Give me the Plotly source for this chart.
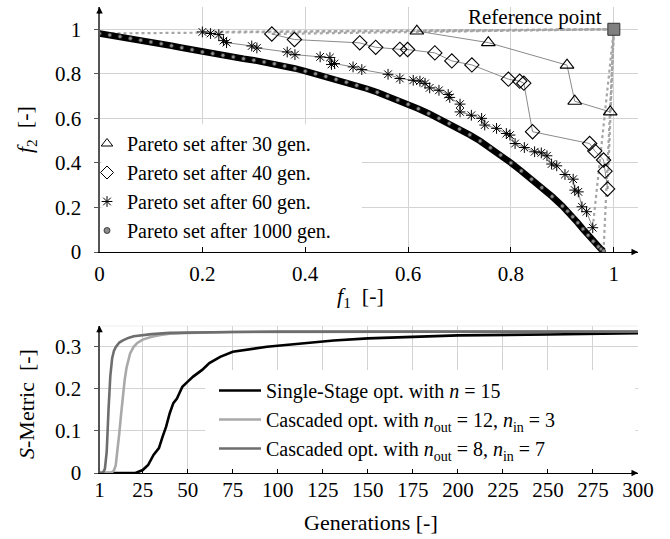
import plotly.graph_objects as go

# ---------------- top chart data: Pareto sets ----------------
gen30_f1 = [0.617, 0.756, 0.909, 0.924, 0.993]
gen30_f2 = [0.992, 0.940, 0.839, 0.677, 0.629]

gen40_f1 = [0.335, 0.379, 0.506, 0.537, 0.584, 0.599, 0.652, 0.685, 0.724, 0.795,
            0.817, 0.825, 0.842, 0.953, 0.963, 0.980, 0.983, 0.988]
gen40_f2 = [0.979, 0.954, 0.939, 0.919, 0.910, 0.909, 0.894, 0.858, 0.840, 0.776,
            0.767, 0.758, 0.540, 0.487, 0.454, 0.413, 0.363, 0.283]

gen60_f1 = [0.200, 0.216, 0.232, 0.241, 0.247, 0.296, 0.306, 0.365, 0.380, 0.429,
            0.448, 0.451, 0.457, 0.493, 0.510, 0.561, 0.584, 0.610, 0.623, 0.633,
            0.642, 0.660, 0.678, 0.681, 0.701, 0.701, 0.723, 0.743, 0.749, 0.772,
            0.791, 0.798, 0.808, 0.826, 0.846, 0.859, 0.870, 0.879, 0.889, 0.905,
            0.921, 0.924, 0.931, 0.938, 0.947, 0.959]
gen60_f2 = [0.988, 0.981, 0.976, 0.949, 0.940, 0.925, 0.916, 0.898, 0.886, 0.876,
            0.873, 0.842, 0.846, 0.831, 0.819, 0.798, 0.779, 0.771, 0.767, 0.757,
            0.737, 0.726, 0.707, 0.694, 0.664, 0.629, 0.614, 0.600, 0.570, 0.555,
            0.532, 0.525, 0.487, 0.469, 0.450, 0.445, 0.432, 0.395, 0.387, 0.348,
            0.327, 0.278, 0.270, 0.203, 0.181, 0.109]

gen1000_f1 = [0.00, 0.02, 0.04, 0.06, 0.08, 0.10, 0.12, 0.14, 0.16, 0.18,
              0.20, 0.22, 0.24, 0.26, 0.28, 0.30, 0.32, 0.34, 0.36, 0.38,
              0.40, 0.42, 0.44, 0.46, 0.48, 0.50, 0.52, 0.54, 0.56, 0.58,
              0.60, 0.62, 0.64, 0.66, 0.68, 0.70, 0.72, 0.74, 0.76, 0.78,
              0.80, 0.82, 0.84, 0.86, 0.88, 0.90, 0.91, 0.92, 0.93, 0.94,
              0.95, 0.96, 0.97, 0.975, 0.98]
gen1000_f2 = [0.981, 0.974, 0.967, 0.959, 0.951, 0.943, 0.935, 0.926, 0.917, 0.908,
              0.898, 0.891, 0.883, 0.876, 0.868, 0.861, 0.853, 0.845, 0.835, 0.824,
              0.812, 0.800, 0.788, 0.775, 0.762, 0.748, 0.733, 0.717, 0.700, 0.682,
              0.663, 0.643, 0.622, 0.600, 0.577, 0.552, 0.526, 0.498, 0.468, 0.435,
              0.400, 0.364, 0.327, 0.289, 0.249, 0.206, 0.183, 0.158, 0.131, 0.103,
              0.075, 0.048, 0.024, 0.013, 0.005]

ref_f1 = [1.0]
ref_f2 = [1.0]

legend_top = ["Pareto set after 30 gen.", "Pareto set after 40 gen.",
              "Pareto set after 60 gen.", "Pareto set after 1000 gen."]

# ---------------- bottom chart data: S-metric ----------------
gens_single = [1, 21, 25, 28, 31, 34, 36, 38, 40, 42, 44, 47, 50, 53, 58, 62, 68, 75,
               94, 112, 131, 150, 175, 200, 250, 300]
s_single = [0, 0, 0.007, 0.019, 0.043, 0.059, 0.086, 0.110, 0.142, 0.166, 0.177, 0.205,
            0.217, 0.229, 0.245, 0.261, 0.276, 0.288, 0.300, 0.308, 0.315, 0.320, 0.324,
            0.327, 0.329, 0.332]

gens_c12 = [1, 7, 8, 9, 10, 11, 12, 13, 14, 15, 16, 17, 18, 20, 22, 25, 30, 35, 40, 50,
            60, 75, 100, 150, 200, 300]
s_c12 = [0, 0, 0.002, 0.006, 0.018, 0.05, 0.095, 0.14, 0.185, 0.222, 0.25, 0.27, 0.284,
         0.300, 0.309, 0.317, 0.324, 0.328, 0.331, 0.333, 0.334, 0.335, 0.335, 0.336,
         0.336, 0.336]

gens_c8 = [1, 3, 4, 5, 6, 7, 8, 9, 10, 11, 12, 14, 17, 20, 25, 30, 40, 50, 75, 100, 150,
           200, 300]
s_c8 = [0, 0.001, 0.01, 0.05, 0.15, 0.23, 0.272, 0.290, 0.299, 0.305, 0.310, 0.315,
        0.321, 0.325, 0.328, 0.330, 0.333, 0.334, 0.335, 0.336, 0.336, 0.336, 0.336]

legend_bottom = ["Single-Stage opt. with <i>n</i> = 15",
                 "Cascaded opt. with <i>n</i><sub>out</sub> = 12, <i>n</i><sub>in</sub> = 3",
                 "Cascaded opt. with <i>n</i><sub>out</sub> = 8, <i>n</i><sub>in</sub> = 7"]

top_xticks = [0, 0.2, 0.4, 0.6, 0.8, 1]
top_xlabels = ["0", "0.2", "0.4", "0.6", "0.8", "1"]
top_yticks = [0, 0.2, 0.4, 0.6, 0.8, 1]
top_ylabels = ["0", "0.2", "0.4", "0.6", "0.8", "1"]
bot_xticks = [1, 25, 50, 75, 100, 125, 150, 175, 200, 225, 250, 275, 300]
bot_yticks = [0, 0.1, 0.2, 0.3]
bot_ylabels = ["0", "0.1", "0.2", "0.3"]

W, H = 670, 539
FONT = "Liberation Serif, Times New Roman, Times, serif"
GRID = "#d3d3d3"
DOT = "#a6a6a6"

fig = go.Figure()

# dotted hypervolume boundaries to reference point
for fx, fy in [(gen1000_f1, gen1000_f2), (gen60_f1, gen60_f2),
               (gen40_f1, gen40_f2), (gen30_f1, gen30_f2)]:
    for i in (0, -1):
        fig.add_trace(go.Scatter(x=[fx[i], ref_f1[0]], y=[fy[i], ref_f2[0]], mode="lines",
                                 line=dict(color=DOT, width=2.2, dash="dot"),
                                 showlegend=False, hoverinfo="skip", xaxis="x", yaxis="y"))

# 1000 gen: thick band of dense points
fig.add_trace(go.Scatter(x=gen1000_f1, y=gen1000_f2, mode="lines+markers",
                         line=dict(color="black", width=6.5),
                         marker=dict(symbol="circle", size=4, color="#8c8c8c",
                                     line=dict(color="#222", width=0.8)),
                         showlegend=False, xaxis="x", yaxis="y"))
fig.add_trace(go.Scatter(x=gen60_f1, y=gen60_f2, mode="lines+markers",
                         line=dict(color="#8a8a8a", width=1),
                         marker=dict(symbol="asterisk-open", size=9, color="black",
                                     line=dict(color="black", width=1)),
                         showlegend=False, xaxis="x", yaxis="y"))
fig.add_trace(go.Scatter(x=gen40_f1, y=gen40_f2, mode="lines+markers",
                         line=dict(color="#8a8a8a", width=1),
                         marker=dict(symbol="diamond-open", size=11, color="black",
                                     line=dict(color="black", width=1.1)),
                         showlegend=False, xaxis="x", yaxis="y"))
fig.add_trace(go.Scatter(x=gen30_f1, y=gen30_f2, mode="lines+markers",
                         line=dict(color="#8a8a8a", width=1),
                         marker=dict(symbol="triangle-up-open", size=12, color="black",
                                     line=dict(color="black", width=1.1)),
                         showlegend=False, xaxis="x", yaxis="y"))
fig.add_trace(go.Scatter(x=ref_f1, y=ref_f2, mode="markers",
                         marker=dict(symbol="square", size=12, color="#808080",
                                     line=dict(color="#333", width=1)),
                         showlegend=False, xaxis="x", yaxis="y"))

# top legend entries (marker only)
leg_markers = [dict(symbol="triangle-up-open", size=10, color="black", line=dict(color="black", width=1)),
               dict(symbol="diamond-open", size=10, color="black", line=dict(color="black", width=1)),
               dict(symbol="asterisk-open", size=9, color="black", line=dict(color="black", width=1)),
               dict(symbol="circle", size=6, color="#8c8c8c", line=dict(color="#222", width=0.8))]
for name, mk in zip(legend_top, leg_markers):
    fig.add_trace(go.Scatter(x=[None], y=[None], mode="markers", marker=mk, name=name,
                             legend="legend", xaxis="x", yaxis="y"))

# bottom chart lines
fig.add_trace(go.Scatter(x=gens_single, y=s_single, mode="lines", name=legend_bottom[0],
                         line=dict(color="black", width=2.6), legend="legend2",
                         xaxis="x2", yaxis="y2"))
fig.add_trace(go.Scatter(x=gens_c12, y=s_c12, mode="lines", name=legend_bottom[1],
                         line=dict(color="#a9a9a9", width=2.6), legend="legend2",
                         xaxis="x2", yaxis="y2"))
fig.add_trace(go.Scatter(x=gens_c8, y=s_c8, mode="lines", name=legend_bottom[2],
                         line=dict(color="#6e6e6e", width=2.6), legend="legend2",
                         xaxis="x2", yaxis="y2"))

def px_x(p):
    return p / W

def px_y(p):
    return 1 - p / H

tick_font = dict(family=FONT, size=21, color="black")
xdom = [px_x(99.5), px_x(638)]

common = dict(automargin=False, showgrid=True, gridcolor=GRID, gridwidth=1, zeroline=False,
              showline=True, tickfont=tick_font)

fig.update_layout(
    template="none",
    width=W, height=H, margin=dict(l=0, r=0, t=0, b=0, pad=0),
    paper_bgcolor="white", plot_bgcolor="white",
    font=dict(family=FONT, color="black"),
    hovermode=False,
    xaxis=dict(domain=xdom, range=[0, 1.047], tickvals=top_xticks, ticktext=top_xlabels,
               linecolor="black", linewidth=1.3, ticks="inside", ticklen=5,
               tickcolor="black", ticklabelstandoff=2, anchor="y", **common),
    yaxis=dict(domain=[px_y(252), px_y(7)], range=[0, 1.1], tickvals=top_yticks,
               ticktext=top_ylabels, linecolor="#555", linewidth=2, ticks="outside",
               ticklen=4, tickcolor="#555", ticklabelstandoff=8, anchor="x", **common),
    xaxis2=dict(domain=xdom, range=[1, 300], tickvals=bot_xticks,
                linecolor="black", linewidth=1.3, ticks="inside", ticklen=4,
                tickcolor="black", ticklabelstandoff=-3, anchor="y2", **common),
    yaxis2=dict(domain=[px_y(473), px_y(325.7)], range=[0, 0.35], tickvals=bot_yticks,
                ticktext=bot_ylabels, linecolor="#555", linewidth=2, ticks="outside",
                ticklen=4, tickcolor="#555", ticklabelstandoff=8, anchor="x2", **common),
    legend=dict(x=px_x(87), y=px_y(124), xanchor="left", yanchor="top",
                bgcolor="rgba(0,0,0,0)", borderwidth=0,
                font=dict(family=FONT, size=20, color="black"),
                itemwidth=30, tracegroupgap=0),
    legend2=dict(x=px_x(214), y=px_y(371), xanchor="left", yanchor="top",
                 bgcolor="rgba(0,0,0,0)", borderwidth=0,
                 font=dict(family=FONT, size=20, color="black"),
                 itemwidth=42, tracegroupgap=0),
    showlegend=True,
)

# white boxes behind the legends (cover grid, below traces)
fig.add_shape(type="rect", xref="x", yref="y", x0=0.004, x1=0.510, y0=0.008, y1=0.574,
              fillcolor="white", line=dict(width=0), layer="between")
fig.add_shape(type="rect", xref="x2", yref="y2", x0=59.7, x1=298.5, y0=0.004, y1=0.245,
              fillcolor="white", line=dict(width=0), layer="between")
# top grid line of bottom chart
fig.add_shape(type="line", xref="x2", yref="y2", x0=1, x1=300, y0=0.35, y1=0.35,
              line=dict(color=GRID, width=1), layer="between")

# axis arrows
arrow = dict(text="", showarrow=True, arrowhead=2, arrowsize=1, arrowwidth=1.3,
             arrowcolor="black", axref="pixel", ayref="pixel", standoff=0)
fig.add_annotation(x=1.047, y=0, xref="x", yref="y", ax=-8, ay=0, **arrow)
fig.add_annotation(x=0, y=1.1, xref="x", yref="y", ax=0, ay=8, **arrow)
fig.add_annotation(x=300, y=0, xref="x2", yref="y2", ax=-8, ay=0, **arrow)
fig.add_annotation(x=1, y=0.35, xref="x2", yref="y2", ax=0, ay=8, **arrow)

title_font = dict(family=FONT, size=22, color="black")
fig.add_annotation(text="<i>f</i><sub>1</sub>  [-]", x=px_x(360), y=px_y(297), xref="paper",
                   yref="paper", showarrow=False, font=title_font, xanchor="center",
                   yanchor="middle")
fig.add_annotation(text="<i>f</i><sub>2</sub>  [-]", x=px_x(26), y=px_y(130), xref="paper",
                   yref="paper", showarrow=False, font=title_font, textangle=-90,
                   xanchor="center", yanchor="middle")
fig.add_annotation(text="<i>S</i>-Metric  [-]", x=px_x(26), y=px_y(404), xref="paper",
                   yref="paper", showarrow=False, font=title_font, textangle=-90,
                   xanchor="center", yanchor="middle")
fig.add_annotation(text="Generations [-]", x=px_x(371), y=px_y(522), xref="paper",
                   yref="paper", showarrow=False, font=title_font, xanchor="center",
                   yanchor="middle")
fig.add_annotation(text="Reference point", x=px_x(604), y=px_y(17), xref="paper",
                   yref="paper", showarrow=False, font=dict(family=FONT, size=21, color="black"),
                   xanchor="right", yanchor="middle")

fig.write_html("out.html", config={"displayModeBar": False, "staticPlot": True},
               post_script="document.body.style.margin='0px';")
